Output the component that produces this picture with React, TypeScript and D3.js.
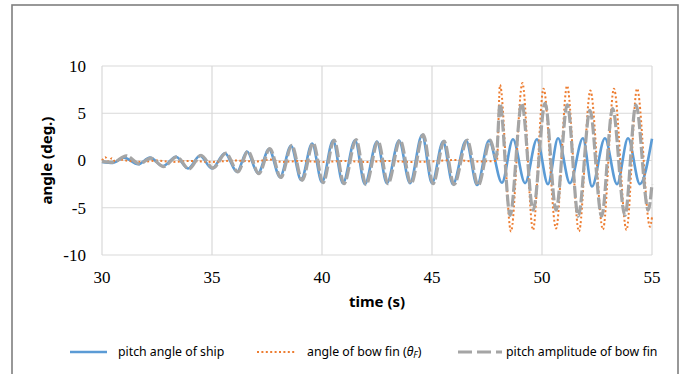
import React from 'react';
import * as d3 from 'd3';

// ---- data ----
const xTicks = [30, 35, 40, 45, 50, 55];
const yTicks = [-10, -5, 0, 5, 10];

// pitch angle of ship: extrema (time, angle)
const shipT = [30.0, 30.5, 31.0, 31.64, 32.18, 32.77, 33.36, 33.91, 34.45, 35.0, 35.59, 36.14, 36.59, 37.09, 37.59, 38.09, 38.59, 39.05, 39.55, 40.0, 40.5, 40.95, 41.5, 41.95, 42.5, 42.95, 43.5, 44.0, 44.55, 45.0, 45.5, 45.95, 46.55, 47.05, 47.59, 48.18, 48.68, 49.23, 49.77, 50.27, 50.73, 51.27, 51.86, 52.27, 52.86, 53.41, 53.91, 54.45, 55.0];
const shipV = [-0.15, -0.25, 0.3, -0.4, 0.3, -0.6, 0.4, -0.85, 0.5, -0.85, 0.75, -1.2, 0.95, -1.35, 1.2, -1.75, 1.55, -2.05, 1.8, -2.3, 2.1, -2.4, 2.15, -2.5, 2.0, -2.4, 2.1, -2.4, 2.7, -2.4, 2.0, -2.5, 2.1, -2.6, 2.1, -2.35, 2.25, -2.4, 2.25, -2.5, 2.35, -2.4, 2.35, -2.75, 2.35, -2.5, 2.35, -2.5, 2.3];

// angle of bow fin
const finT = [30.0, 30.15, 30.3, 30.45, 30.6, 30.8, 31.2, 31.8, 32.5, 33.2, 34.0, 35.0, 36.0, 37.0, 37.6, 38.2, 39.0, 40.0, 41.0, 42.0, 43.0, 44.0, 45.0, 46.0, 47.0, 47.95, 48.09, 48.59, 49.11, 49.59, 50.07, 50.64, 51.14, 51.68, 52.2, 52.77, 53.27, 53.84, 54.32, 54.91, 55.0];
const finV = [0.0, 0.35, -0.1, 0.25, -0.15, 0.1, -0.05, -0.15, 0.0, -0.15, -0.05, -0.15, 0.0, -0.1, 0.1, -0.15, -0.05, -0.15, -0.05, -0.15, -0.05, -0.15, -0.1, 0.05, -0.1, -0.05, 8.0, -7.5, 8.2, -7.35, 7.6, -7.2, 7.9, -7.5, 7.4, -7.3, 7.6, -7.35, 7.6, -7.0, -6.0];

// pitch amplitude of bow fin
const ampT = [30.0, 30.5, 31.1, 31.7, 32.22, 32.8, 33.4, 33.95, 34.5, 35.05, 35.63, 36.18, 36.63, 37.13, 37.63, 38.13, 38.63, 39.1, 39.6, 40.05, 40.55, 41.0, 41.55, 42.0, 42.55, 43.0, 43.55, 44.05, 44.6, 45.05, 45.55, 46.0, 46.6, 47.1, 47.65, 47.92, 48.09, 48.55, 49.08, 49.6, 50.14, 50.64, 51.15, 51.65, 52.18, 52.71, 53.21, 53.77, 54.27, 54.83, 55.0];
const ampV = [-0.1, -0.2, 0.5, -0.35, 0.25, -0.65, 0.38, -0.9, 0.55, -0.8, 0.78, -1.2, 0.98, -1.4, 1.25, -1.8, 1.6, -2.1, 1.85, -2.35, 2.15, -2.45, 2.2, -2.55, 2.05, -2.45, 2.15, -2.45, 2.75, -2.45, 2.05, -2.55, 2.15, -2.65, 2.15, 0.3, 6.0, -5.8, 6.05, -5.25, 6.05, -5.25, 5.9, -5.9, 5.3, -5.9, 5.5, -5.8, 5.9, -5.25, -2.5];

const seriesNames = ['pitch angle of ship', 'angle of bow fin', 'pitch amplitude of bow fin'];
const colors = ['#5B9BD5', '#ED7D31', '#A5A5A5'];

export default function App() {
  const x = d3.scaleLinear().domain([30, 55]).range([102, 652]);
  const y = d3.scaleLinear().domain([-10, 10]).range([255, 66]);
  const line = d3
    .line<[number, number]>()
    .x((d) => x(d[0]))
    .y((d) => y(d[1]))
    .curve(d3.curveMonotoneX);

  const ship = d3.zip(shipT, shipV) as [number, number][];
  const fin = d3.zip(finT, finV) as [number, number][];
  const amp = d3.zip(ampT, ampV) as [number, number][];

  const tickFont = '"Liberation Serif", "Times New Roman", serif';
  const sans = '"Noto Sans", "Open Sans", sans-serif';

  return (
    <svg
      width={683}
      height={374}
      style={{ position: 'absolute', left: 0, top: 0, background: '#fff' }}
    >
      <rect x={12} y={5} width={666} height={380} fill="#fff" stroke="#7f7f7f" strokeWidth={1.6} />
      {/* grid */}
      {yTicks.map((t) => (
        <line key={'gy' + t} x1={x(30)} x2={x(55)} y1={y(t)} y2={y(t)} stroke="#d9d9d9" strokeWidth={1.2} />
      ))}
      {xTicks.map((t) => (
        <line key={'gx' + t} x1={x(t)} x2={x(t)} y1={y(10)} y2={y(-10)} stroke="#d9d9d9" strokeWidth={1.2} />
      ))}
      {/* tick labels */}
      {yTicks.map((t) => (
        <text key={'ly' + t} x={86} y={y(t)} dy="0.35em" textAnchor="end" fontFamily={tickFont} fontSize={17} fill="#000">
          {t}
        </text>
      ))}
      {xTicks.map((t) => (
        <text key={'lx' + t} x={x(t)} y={283} textAnchor="middle" fontFamily={tickFont} fontSize={17} fill="#000">
          {t}
        </text>
      ))}
      {/* axis titles */}
      <text x={377} y={307} textAnchor="middle" fontFamily={sans} fontWeight="bold" fontSize={15} fill="#000">
        time (s)
      </text>
      <text
        transform={`translate(52,${y(0)}) rotate(-90)`}
        textAnchor="middle"
        fontFamily={sans}
        fontWeight="bold"
        fontSize={15}
        fill="#000"
      >
        angle (deg.)
      </text>
      {/* series */}
      <path d={line(ship) || ''} fill="none" stroke={colors[0]} strokeWidth={2.6} />
      <path d={line(fin) || ''} fill="none" stroke={colors[1]} strokeWidth={2} strokeDasharray="2,2.4" />
      <path d={line(amp) || ''} fill="none" stroke={colors[2]} strokeWidth={3.2} strokeDasharray="12,3" />
      {/* legend */}
      <g fontFamily={sans} fontSize={12.3} fill="#000">
        <line x1={70} x2={107} y1={352} y2={352} stroke={colors[0]} strokeWidth={2.6} />
        <text x={118} y={356}>{seriesNames[0]}</text>
        <line x1={257} x2={296} y1={352} y2={352} stroke={colors[1]} strokeWidth={2} strokeDasharray="2,2.4" />
        <text x={307} y={356}>
          {seriesNames[1]} (<tspan fontStyle="italic">θ</tspan>
          <tspan fontStyle="italic" fontSize={9} dy={2}>F</tspan>
          <tspan dy={-2}>)</tspan>
        </text>
        <line x1={458} x2={502} y1={352} y2={352} stroke={colors[2]} strokeWidth={3.2} strokeDasharray="14,5" />
        <text x={506} y={356}>{seriesNames[2]}</text>
      </g>
    </svg>
  );
}
